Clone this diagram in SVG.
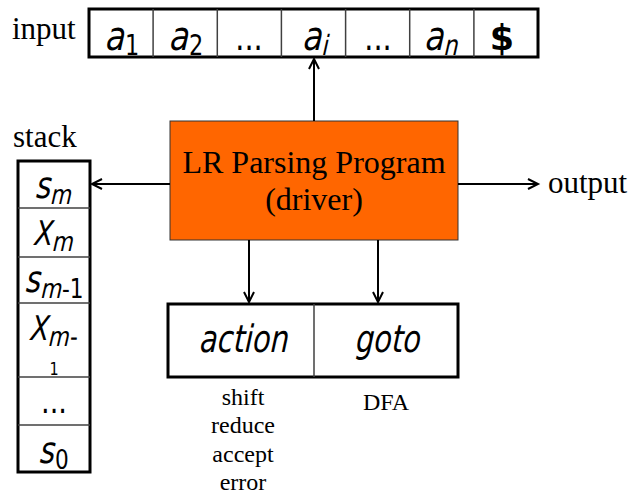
<svg xmlns="http://www.w3.org/2000/svg" width="631" height="498" viewBox="0 0 631 498">
<defs>
<style>
.serif{font-family:"Liberation Serif","Times New Roman",serif;fill:#000}
.sv{font-family:"DejaVu Sans",Verdana,sans-serif;font-style:italic;fill:#000;text-anchor:middle}
.st{text-anchor:start}
.en{text-anchor:end}
.up{font-style:normal}
.outer{fill:#fff;stroke:#000;stroke-width:3}
.div{stroke:#404040;stroke-width:1.5}
.conn{stroke:#000;stroke-width:2;fill:none;marker-end:url(#ah)}
</style>
<marker id="ah" markerUnits="userSpaceOnUse" markerWidth="14" markerHeight="14" refX="11" refY="6" orient="auto">
<path d="M1,1 L11,6 L1,11" fill="none" stroke="#000" stroke-width="2"/>
</marker>
</defs>
<rect width="631" height="498" fill="#fff"/>

<g id="input-label"><text class="serif" x="12" y="39" font-size="31">input</text></g>

<g id="input-tape">
<rect class="outer" x="89" y="9" width="449" height="48"/>
<line class="div" x1="153.1" y1="9" x2="153.1" y2="57"/>
<line class="div" x1="217.3" y1="9" x2="217.3" y2="57"/>
<line class="div" x1="281.4" y1="9" x2="281.4" y2="57"/>
<line class="div" x1="345.6" y1="9" x2="345.6" y2="57"/>
<line class="div" x1="409.7" y1="9" x2="409.7" y2="57"/>
<line class="div" x1="473.9" y1="9" x2="473.9" y2="57"/>
<text class="sv en" transform="translate(125,50) scale(0.8,1) skewX(-5)" font-size="40">a</text>
<text class="sv st up" transform="translate(125,55) scale(0.8,1)" font-size="28">1</text>
<text class="sv en" transform="translate(189,50) scale(0.8,1) skewX(-5)" font-size="40">a</text>
<text class="sv st up" transform="translate(189,55) scale(0.8,1)" font-size="28">2</text>
<text class="sv up" transform="translate(249,50) scale(0.8,1)" font-size="36">...</text>
<text class="sv" transform="translate(316,50) scale(0.8,1) skewX(-5)" font-size="40">a<tspan font-size="28" dy="5">i</tspan></text>
<text class="sv up" transform="translate(378,50) scale(0.8,1)" font-size="36">...</text>
<text class="sv" transform="translate(442,50) scale(0.8,1) skewX(-5)" font-size="40">a<tspan font-size="28" dy="5">n</tspan></text>
<text class="sv up" x="502" y="50" font-size="35" font-weight="bold">$</text>
</g>

<g id="stack-label"><text class="serif" x="13" y="147" font-size="31">stack</text></g>

<g id="stack">
<rect class="outer" x="18" y="161" width="72" height="311"/>
<line class="div" x1="18" y1="208" x2="90" y2="208"/>
<line class="div" x1="18" y1="257" x2="90" y2="257"/>
<line class="div" x1="18" y1="303" x2="90" y2="303"/>
<line class="div" x1="18" y1="377" x2="90" y2="377"/>
<line class="div" x1="18" y1="425" x2="90" y2="425"/>
<text class="sv" transform="translate(54,198) scale(0.8,1) skewX(-5)" font-size="37">s<tspan font-size="27" dy="6">m</tspan></text>
<text class="sv" transform="translate(54,245) scale(0.8,1) skewX(-5)" font-size="34">X<tspan font-size="27" dy="6">m</tspan></text>
<text class="sv en" transform="translate(41,292) scale(0.8,1) skewX(-5)" font-size="37">s</text>
<text class="sv st" transform="translate(41,298) scale(0.8,1) skewX(-5)" font-size="27">m</text>
<text class="sv st up" transform="translate(62,298) scale(0.8,1)" font-size="27">-1</text>
<text class="sv" transform="translate(54,340) scale(0.8,1) skewX(-5)" font-size="34">X<tspan font-size="27" dy="6">m</tspan><tspan class="up" font-size="27">-</tspan></text>
<text class="sv up" transform="translate(54,375) scale(0.8,1)" font-size="18">1</text>
<text class="sv up" transform="translate(54,413) scale(0.8,1)" font-size="34">...</text>
<text class="sv en" transform="translate(55,463) scale(0.8,1) skewX(-5)" font-size="37">s</text>
<text class="sv st up" transform="translate(55,469) scale(0.8,1)" font-size="27">0</text>
</g>

<g id="driver">
<rect x="170" y="121" width="288" height="119" fill="#FF6600" stroke="#333" stroke-width="1"/>
<text class="serif" x="314" y="173" font-size="32" text-anchor="middle">LR Parsing Program</text>
<text class="serif" x="314" y="210" font-size="32" text-anchor="middle">(driver)</text>
</g>

<g id="output-label"><text class="serif" x="548" y="193" font-size="31">output</text></g>

<g id="parse-table">
<rect class="outer" x="168" y="304" width="290" height="73"/>
<line class="div" x1="314" y1="304" x2="314" y2="377"/>
<text class="sv" transform="translate(244,352) scale(0.76,1) skewX(-5)" font-size="38">action</text>
<text class="sv" transform="translate(388,352) scale(0.76,1) skewX(-5)" font-size="38">goto</text>
</g>

<g id="action-notes">
<text class="serif" x="243" y="405" font-size="24" text-anchor="middle">shift</text>
<text class="serif" x="243" y="433" font-size="24" text-anchor="middle">reduce</text>
<text class="serif" x="243" y="462" font-size="24" text-anchor="middle">accept</text>
<text class="serif" x="243" y="490" font-size="24" text-anchor="middle">error</text>
</g>
<g id="goto-notes">
<text class="serif" x="386" y="410" font-size="24" text-anchor="middle">DFA</text>
</g>

<g id="connectors">
<line class="conn" x1="314" y1="121" x2="314" y2="59"/>
<line class="conn" x1="170" y1="184" x2="92" y2="184"/>
<line class="conn" x1="458" y1="184" x2="538" y2="184"/>
<line class="conn" x1="249" y1="240" x2="249" y2="302"/>
<line class="conn" x1="378" y1="240" x2="378" y2="302"/>
</g>
</svg>
